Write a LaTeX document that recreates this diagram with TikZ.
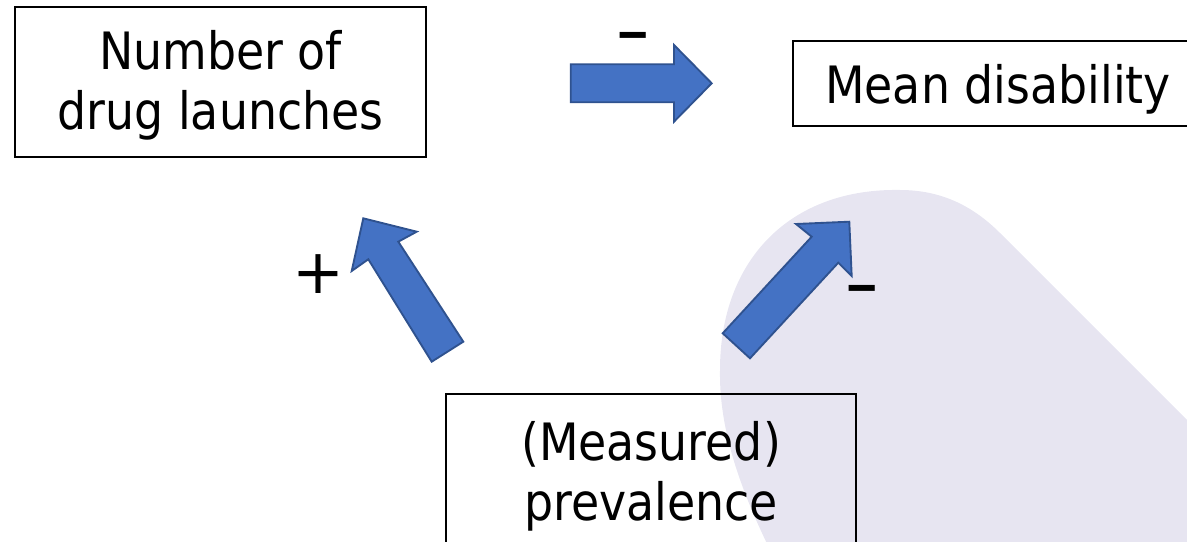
\documentclass[tikz,border=0pt]{standalone}
\usepackage{fontspec}
\setmainfont[FakeStretch=0.89]{DejaVu Sans}
\newfontfamily\signfont{DejaVu Sans}
\usetikzlibrary{arrows}
\definecolor{c4472c4}{RGB}{68,114,196}
\definecolor{c2f528f}{RGB}{47,82,143}
\definecolor{ce7e5f1}{RGB}{231,229,241}

\begin{document}
\begin{tikzpicture}[y=0.80pt, x=0.8pt, yscale=-1, inner sep=0pt, outer sep=0pt,
  factor/.style={draw=black, line width=1.6pt, align=center, text depth=0pt,
    font=\fontsize{41.2}{48}\selectfont},
  blockarrow/.style={draw=c2f528f, fill=c4472c4, line join=miter, line width=1.5pt},
  sign/.style={font=\signfont\bfseries\fontsize{48}{52}\selectfont, anchor=base}]
  \useasboundingbox (0,0) rectangle (1187,542);
  \clip (0,0) rectangle (1187,542);
  % background blob
  \path[fill=ce7e5f1]
  (1000,233) .. controls (972,205) and (940,190) .. (900,190)
  .. controls (790,188) and (720,260) .. (720,370)
  .. controls (719,430) and (740,490) .. (775,560) -- (1300,560) -- (1300,533) -- cycle;
  % boxes
  \node[factor, text height=76.8pt, minimum width=328.8pt, minimum height=120pt]
    (launches) at (220.5,82) {Number of\\drug launches};
  \node[factor, text height=31.7pt, minimum width=328pt, minimum height=68pt]
    (disability) at (998,83.5) {Mean disability};
  \node[factor, text height=81.6pt, minimum width=328pt, minimum height=120pt]
    (prevalence) at (651,469) {(Measured)\\prevalence};
  % block arrows
  \path[blockarrow]
  (570.7,64.3) -- (674,64.3) -- (674,45) -- (711.7,83.3) -- (674,121.7) --
  (674,102.3) -- (570.7,102.3) -- cycle;
  \path[blockarrow]
  (463.3,341.7) -- (398.3,241.7) -- (416.7,231.7) -- (363.3,218.3) --
  (351.7,271) -- (368.3,259.3) -- (431.7,361.7) -- cycle;
  \path[blockarrow]
  (750,358.3) -- (838.3,262.7) -- (851.7,276) -- (849.3,221.7) --
  (796,224) -- (811.7,236.7) -- (722.7,333.3) -- cycle;
  % signs
  \node[sign] (minus1) at (633,47.8) {\scalebox{1.42}[0.7]{-}};
  \node[sign] (minus2) at (862,300.8) {\scalebox{1.42}[0.7]{-}};
  \node[font=\signfont\fontsize{49.6}{55}\selectfont] (plus) at (318,274) {+};
\end{tikzpicture}
\end{document}
